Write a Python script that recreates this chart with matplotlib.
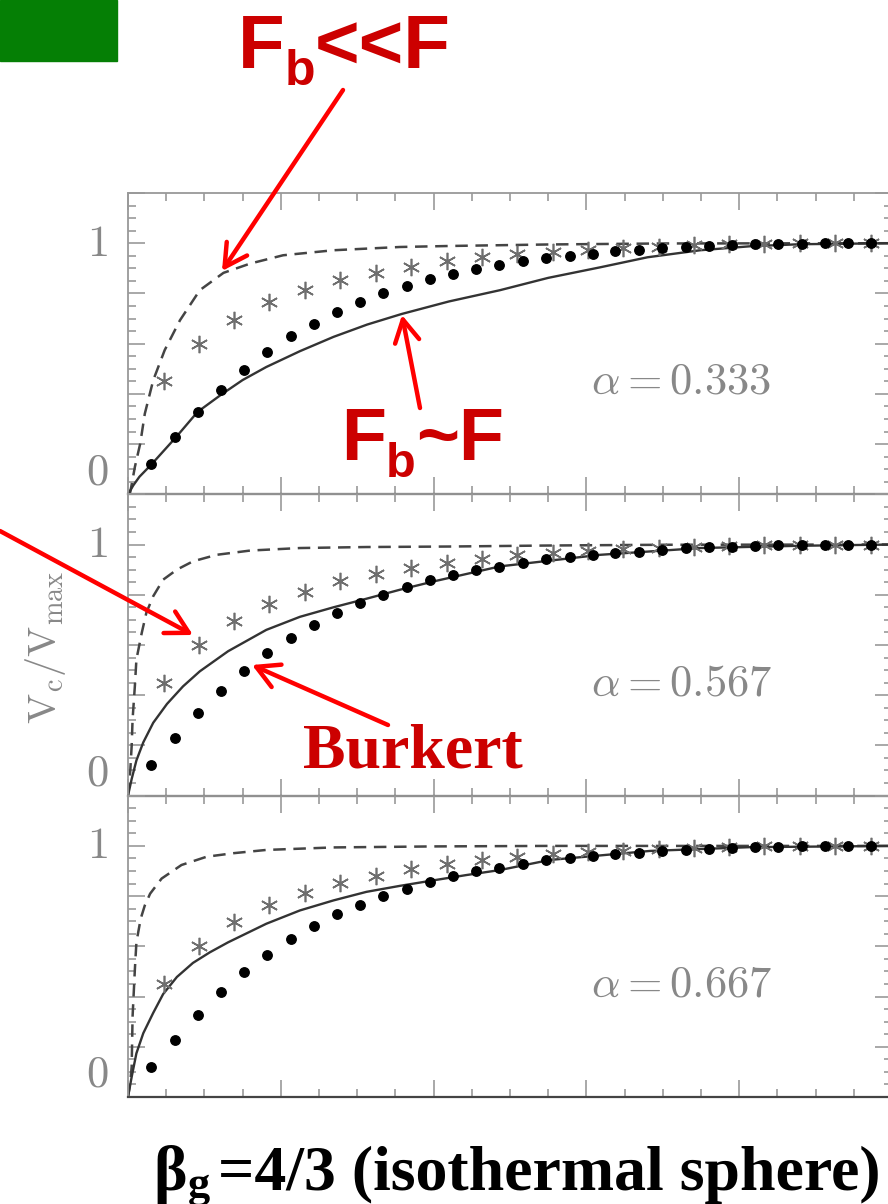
import matplotlib
matplotlib.use('Agg')
import matplotlib.pyplot as plt
from matplotlib.ticker import MultipleLocator
from matplotlib.patches import Rectangle, FancyArrowPatch

W, H = 888, 1204

# Burkert profile (filled dots), same in every panel
burkert_x = [0.030, 0.061, 0.091, 0.122, 0.152, 0.182, 0.213, 0.243, 0.274, 0.304,
             0.334, 0.365, 0.395, 0.426, 0.456, 0.486, 0.517, 0.547, 0.578, 0.608,
             0.638, 0.669, 0.699, 0.730, 0.760, 0.790, 0.821, 0.851, 0.882, 0.912,
             0.942, 0.973]
burkert_v = [0.120, 0.228, 0.328, 0.417, 0.497, 0.567, 0.629, 0.680, 0.727, 0.766,
             0.800, 0.830, 0.857, 0.879, 0.899, 0.912, 0.928, 0.943, 0.950, 0.959,
             0.968, 0.972, 0.979, 0.985, 0.989, 0.992, 0.995, 0.997, 0.998, 0.999,
             1.000, 1.000]

# asterisks, same in every panel
star_x = [0.047, 0.093, 0.139, 0.185, 0.232, 0.278, 0.324, 0.370, 0.417, 0.463,
          0.509, 0.556, 0.602, 0.648, 0.695, 0.741, 0.787, 0.833, 0.880, 0.926, 0.972]
star_v = [0.450, 0.600, 0.695, 0.764, 0.812, 0.853, 0.882, 0.907, 0.928, 0.944,
          0.957, 0.967, 0.974, 0.981, 0.986, 0.991, 0.995, 0.998, 1.000, 1.000, 1.000]

alphas = ['0.333', '0.567', '0.667']

# solid curves (F_b ~ F)
solid_x_1 = [0, 0.007, 0.015, 0.031, 0.063, 0.091, 0.122, 0.150, 0.181, 0.225, 0.269,
             0.313, 0.358, 0.420, 0.487, 0.550, 0.618, 0.680, 0.749, 0.815, 0.880, 1.0]
solid_v_1 = [0, 0.036, 0.070, 0.120, 0.228, 0.328, 0.397, 0.455, 0.507, 0.570, 0.627,
             0.676, 0.718, 0.768, 0.813, 0.862, 0.904, 0.944, 0.972, 0.988, 0.996, 1.0]
solid_x_2 = [0, 0.0048, 0.011, 0.020, 0.033, 0.051, 0.072, 0.094, 0.131, 0.181,
             0.225, 0.269, 0.312, 0.356, 0.400, 0.487, 0.618, 0.749, 0.880, 1.0]
solid_v_2 = [0, 0.066, 0.140, 0.212, 0.290, 0.365, 0.435, 0.495, 0.575, 0.660,
             0.712, 0.750, 0.784, 0.820, 0.853, 0.913, 0.959, 0.986, 0.995, 1.0]
solid_x_3 = [0, 0.0048, 0.011, 0.020, 0.033, 0.046, 0.064, 0.085, 0.107, 0.131,
             0.181, 0.225, 0.269, 0.312, 0.356, 0.400, 0.443, 0.487, 0.552, 0.683,
             0.814, 1.0]
solid_v_3 = [0, 0.080, 0.174, 0.254, 0.335, 0.410, 0.478, 0.534, 0.576, 0.616,
             0.690, 0.743, 0.783, 0.817, 0.841, 0.863, 0.884, 0.904, 0.944, 0.980,
             0.995, 1.0]

# dashed curves (F_b << F)
dash_x_1 = [0, 0.003, 0.009, 0.016, 0.022, 0.033, 0.048, 0.068, 0.094, 0.125,
            0.160, 0.203, 0.269, 0.356, 0.421, 0.550, 0.700, 1.0]
dash_v_1 = [0, 0.009, 0.109, 0.202, 0.321, 0.454, 0.574, 0.693, 0.813, 0.882,
            0.919, 0.952, 0.972, 0.985, 0.989, 0.995, 0.999, 1.0]
dash_x_2 = [0, 0.003, 0.0048, 0.006, 0.009, 0.011, 0.018, 0.024, 0.033, 0.046,
            0.064, 0.085, 0.116, 0.160, 0.225, 0.312, 0.421, 0.550, 0.700, 1.0]
dash_v_2 = [0, 0.100, 0.198, 0.304, 0.437, 0.542, 0.648, 0.728, 0.794, 0.860,
            0.900, 0.933, 0.959, 0.976, 0.986, 0.990, 0.992, 0.996, 0.999, 1.0]
dash_x_3 = [0, 0.003, 0.0048, 0.006, 0.009, 0.011, 0.0166, 0.022, 0.029, 0.044,
            0.070, 0.103, 0.138, 0.181, 0.269, 0.400, 0.550, 1.0]
dash_v_3 = [0, 0.060, 0.120, 0.321, 0.509, 0.616, 0.710, 0.763, 0.810, 0.870,
            0.924, 0.957, 0.971, 0.984, 0.994, 0.998, 1.0, 1.0]

solids = [(solid_x_1, solid_v_1), (solid_x_2, solid_v_2), (solid_x_3, solid_v_3)]
dashes = [(dash_x_1, dash_v_1), (dash_x_2, dash_v_2), (dash_x_3, dash_v_3)]

plt.rcParams['lines.scale_dashes'] = False


def fx(px):
    return px / W


def fy(py):
    return 1 - py / H


fig = plt.figure(figsize=(W / 100, H / 100), dpi=100)

# green box top left
fig.patches.append(Rectangle((0, fy(61)), fx(117), 61 / H, transform=fig.transFigure,
                             color='#057f05', zorder=0))

tops = [193, 494.3, 795.7]
ph = 301.3
for i in range(3):
    ax = fig.add_axes([fx(128), fy(tops[i] + ph), 764 / W, ph / H])
    ax.set_xlim(0, 1)
    ax.set_ylim(0, 1.2)
    ax.xaxis.set_major_locator(MultipleLocator(0.2))
    ax.xaxis.set_minor_locator(MultipleLocator(0.05))
    ax.yaxis.set_major_locator(MultipleLocator(0.2))
    ax.yaxis.set_minor_locator(MultipleLocator(0.05))
    ax.tick_params(which='both', direction='in', top=True, right=True,
                   labelleft=False, labelbottom=False, color='#999999', width=1.2)
    ax.tick_params(which='major', length=12)
    ax.tick_params(which='minor', length=6)
    for s in ['left', 'right', 'top']:
        ax.spines[s].set_color('#999999')
        ax.spines[s].set_linewidth(1.3)
    ax.spines['bottom'].set_color('#444444')
    ax.spines['bottom'].set_linewidth(1.6)
    ax.patch.set_alpha(0)

    dx, dv = dashes[i]
    ax.plot(dx, dv, color='#444444', lw=1.8, dashes=(9, 5.5))
    sx, sv = solids[i]
    ax.plot(sx, sv, color='#333333', lw=1.7)
    ax.plot(star_x, star_v, ls='none', marker=(6, 2, 0), ms=12.5, mew=1.2, color='#6e6e6e')
    ax.plot(burkert_x, burkert_v, ls='none', marker='o', ms=6.8, color='black')

    ax.text(0.724, 0.45, r'$\alpha = %s$' % alphas[i], ha='center', va='center',
            fontsize=32, color='#888888', math_fontfamily='cm')
    ax.text(-0.026, 1, r'$1$', transform=ax.get_yaxis_transform(), ha='right',
            va='center', fontsize=32, color='#888888', math_fontfamily='cm')
    ax.text(-0.026, 0.005, r'$0$', transform=ax.get_yaxis_transform(), ha='right',
            va='bottom', fontsize=32, color='#888888', math_fontfamily='cm')

fig.text(fx(45), fy(647), r'$\mathrm{V_c/V_{max}}$', rotation=90, ha='center',
         va='center', fontsize=29, color='#888888', math_fontfamily='cm')

renderer = fig.canvas.get_renderer()


def chain(pieces, x0, base, **kw):
    x = x0
    for s, size, drop in pieces:
        t = fig.text(fx(x), fy(base + drop), s, fontsize=size, ha='left',
                     va='baseline', **kw)
        x += t.get_window_extent(renderer=renderer).width


red_sans = dict(family='Liberation Sans', weight='bold', color='#cc0000')
chain([('F', 55, 0), ('b', 36, 17), ('<<F', 55, 0)], 238, 68, **red_sans)
chain([('F', 53, 0), ('b', 35, 17), ('~F', 53, 0)], 341, 460, **red_sans)

fig.text(fx(303), fy(767), 'Burkert', fontsize=46, family='Liberation Serif',
         weight='bold', color='#cc0000', va='baseline', ha='left')

serif_bold = dict(family='Liberation Serif', weight='bold', color='black',
                  va='baseline', ha='left')
fig.text(fx(153), fy(1190), '\u03b2', fontsize=46, **serif_bold)
fig.text(fx(188), fy(1197), 'g', fontsize=32, **serif_bold)
fig.text(fx(218), fy(1190), '=4/3 (isothermal sphere)', fontsize=46, **serif_bold)

# red arrows (tail, tip) in image pixels
arrows = [((343, 90), (222, 271)),
          ((420, 408), (402, 315)),
          ((0, 531), (193, 635)),
          ((388, 725), (252, 665))]
for (x0, y0), (x1, y1) in arrows:
    fig.patches.append(FancyArrowPatch((fx(x0), fy(y0)), (fx(x1), fy(y1)),
                                       transform=fig.transFigure,
                                       arrowstyle='->,head_length=1.0,head_width=0.55',
                                       mutation_scale=16, lw=3.2, color='#ff0000',
                                       shrinkA=0, shrinkB=0, zorder=10))

fig.savefig('out.png', dpi=100)
